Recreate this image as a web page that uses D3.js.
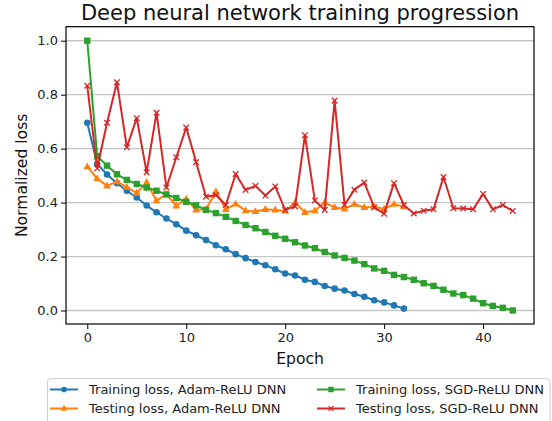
<!DOCTYPE html>
<html>
<head>
<meta charset="utf-8">
<script src="https://cdn.jsdelivr.net/npm/d3@7"></script>
<style>
  body { margin: 0; background: #fff; }
  svg { display: block; font-family: "DejaVu Sans", sans-serif; }
</style>
</head>
<body>
<svg></svg>
<script>
// datos
let adamEpochs = d3.range(0, 33)
let sgdEpochs = d3.range(0, 44)

let adamTrain = [0.696, 0.543, 0.504, 0.472, 0.444, 0.419, 0.389, 0.364, 0.341, 0.320,
                 0.296, 0.279, 0.261, 0.242, 0.227, 0.209, 0.194, 0.180, 0.168, 0.153,
                 0.137, 0.130, 0.114, 0.106, 0.091, 0.081, 0.074, 0.061, 0.051, 0.038,
                 0.030, 0.019, 0.007]
let adamTest = [0.533, 0.489, 0.462, 0.478, 0.457, 0.435, 0.475, 0.407, 0.431, 0.388,
                0.413, 0.373, 0.375, 0.441, 0.375, 0.395, 0.370, 0.367, 0.375, 0.373,
                0.369, 0.400, 0.364, 0.370, 0.400, 0.382, 0.377, 0.394, 0.382, 0.385,
                0.376, 0.394, 0.385]
let sgdTrain = [1.000, 0.572, 0.537, 0.505, 0.484, 0.469, 0.456, 0.444, 0.430, 0.417,
                0.403, 0.390, 0.373, 0.361, 0.347, 0.332, 0.317, 0.305, 0.291, 0.277,
                0.266, 0.253, 0.241, 0.231, 0.217, 0.204, 0.195, 0.185, 0.172, 0.156,
                0.147, 0.132, 0.124, 0.114, 0.101, 0.091, 0.077, 0.063, 0.057, 0.044,
                0.027, 0.017, 0.010, 0.000]
let sgdTest = [0.833, 0.527, 0.696, 0.846, 0.605, 0.713, 0.512, 0.733, 0.456, 0.568,
               0.678, 0.550, 0.422, 0.428, 0.391, 0.506, 0.447, 0.462, 0.426, 0.460,
               0.373, 0.386, 0.650, 0.408, 0.373, 0.778, 0.392, 0.448, 0.474, 0.382,
               0.359, 0.472, 0.391, 0.360, 0.370, 0.375, 0.495, 0.379, 0.378, 0.375,
               0.432, 0.375, 0.391, 0.369]

let xTicks = [0, 10, 20, 30, 40]
let yTicks = [0.0, 0.2, 0.4, 0.6, 0.8, 1.0]

let seriesNames = ['Training loss, Adam-ReLU DNN', 'Testing loss, Adam-ReLU DNN',
                   'Training loss, SGD-ReLU DNN', 'Testing loss, SGD-ReLU DNN']

let width = 552
let height = 421
let plotLeft = 66
let plotRight = 534
let plotTop = 26.7
let plotBottom = 324

let svg = d3.select('svg')
svg.attr('width', width).attr('height', height)

let xScale = d3.scaleLinear().domain([-2.15, 45.15]).range([plotLeft, plotRight])
let yScale = d3.scaleLinear().domain([-0.05, 1.052]).range([plotBottom, plotTop])

const series = [
    { name: seriesNames[0], x: adamEpochs, y: adamTrain, color: '#1f77b4', marker: 'circle' },
    { name: seriesNames[1], x: adamEpochs, y: adamTest, color: '#ff7f0e', marker: 'triangle' },
    { name: seriesNames[2], x: sgdEpochs, y: sgdTrain, color: '#2ca02c', marker: 'square' },
    { name: seriesNames[3], x: sgdEpochs, y: sgdTest, color: '#d62728', marker: 'x' }
]

const drawMarker = (g, type, color, k = 1) => { //dibuja un marcador en el origen del grupo g
    if (type === 'circle') {
        g.append('circle').attr('r', 3.3 * k).attr('fill', color)
    } else if (type === 'square') {
        g.append('rect').attr('x', -3.2 * k).attr('y', -3.2 * k)
         .attr('width', 6.4 * k).attr('height', 6.4 * k).attr('fill', color)
    } else if (type === 'triangle') {
        g.append('path').attr('d', 'M0,-4.3L3.9,2.6L-3.9,2.6Z')
         .attr('transform', 'scale(' + k + ')').attr('fill', color)
    } else {
        g.append('path').attr('d', 'M-2.8,-2.8L2.8,2.8M-2.8,2.8L2.8,-2.8')
         .attr('transform', 'scale(' + k + ')')
         .attr('stroke', color).attr('stroke-width', 1.3 / k)
    }
}

const drawGrid = () => {
    svg.append('g')
       .selectAll('line')
       .data(yTicks)
       .enter()
       .append('line')
       .attr('x1', plotLeft).attr('x2', plotRight)
       .attr('y1', d => yScale(d)).attr('y2', d => yScale(d))
       .attr('stroke', '#c6c6c6')
       .attr('stroke-width', 1.3)
}

const drawSeries = () => {
    series.forEach(s => {
        let pts = s.x.map((e, i) => [e, s.y[i]])
        let line = d3.line().x(d => xScale(d[0])).y(d => yScale(d[1]))
        svg.append('path')
           .attr('d', line(pts))
           .attr('fill', 'none')
           .attr('stroke', s.color)
           .attr('stroke-width', 2)
           .attr('stroke-linejoin', 'round')
        pts.forEach(p => {
            let g = svg.append('g').attr('transform', 'translate(' + xScale(p[0]) + ',' + yScale(p[1]) + ')')
            drawMarker(g, s.marker, s.color)
        })
    })
}

const drawAxes = () => {
    let xAxis = d3.axisBottom(xScale).tickValues(xTicks).tickFormat(d3.format('d')).tickSize(5).tickPadding(4)
    let gx = svg.append('g')
       .attr('transform', 'translate(0,' + plotBottom + ')')
       .call(xAxis)
    let yAxis = d3.axisLeft(yScale).tickValues(yTicks).tickFormat(d3.format('.1f')).tickSize(5).tickPadding(3)
    let gy = svg.append('g')
       .attr('transform', 'translate(' + plotLeft + ',0)')
       .call(yAxis)
    ;[gx, gy].forEach(g => {
        g.select('.domain').remove()
        g.selectAll('text').attr('font-size', 13).attr('fill', '#222').attr('font-family', 'DejaVu Sans')
        g.selectAll('line').attr('stroke', '#000').attr('stroke-width', 1)
    })

    svg.append('rect')
       .attr('x', plotLeft).attr('y', plotTop)
       .attr('width', plotRight - plotLeft).attr('height', plotBottom - plotTop)
       .attr('fill', 'none').attr('stroke', '#000').attr('stroke-width', 1.2)

    svg.append('text')
       .attr('x', (plotLeft + plotRight) / 2).attr('y', 364)
       .attr('text-anchor', 'middle').attr('font-size', 15.6).attr('fill', '#111')
       .text('Epoch')

    svg.append('text')
       .attr('transform', 'translate(27,' + (plotTop + plotBottom) / 2 + ') rotate(-90)')
       .attr('text-anchor', 'middle').attr('font-size', 15.6).attr('fill', '#111')
       .text('Normalized loss')

    svg.append('text')
       .attr('x', (plotLeft + plotRight) / 2).attr('y', 20)
       .attr('text-anchor', 'middle').attr('font-size', 21).attr('fill', '#111')
       .text('Deep neural network training progression')
}

const drawLegend = () => {
    let lg = svg.append('g')
    lg.append('rect')
      .attr('x', 47.5).attr('y', 378.7).attr('width', 502.5).attr('height', 60)
      .attr('rx', 3)
      .attr('fill', '#fff').attr('stroke', '#cccccc').attr('stroke-width', 1)

    let cols = [50, 317]
    let rows = [389.5, 408.5]
    series.forEach((s, i) => {
        let cx = cols[Math.floor(i / 2)]
        let cy = rows[i % 2]
        lg.append('line')
          .attr('x1', cx).attr('x2', cx + 28)
          .attr('y1', cy).attr('y2', cy)
          .attr('stroke', s.color).attr('stroke-width', 2)
        let g = lg.append('g').attr('transform', 'translate(' + (cx + 14) + ',' + cy + ')')
        drawMarker(g, s.marker, s.color, 0.85)
        lg.append('text')
          .attr('x', cx + 39).attr('y', cy)
          .attr('dy', '0.35em')
          .attr('font-size', 13).attr('fill', '#222')
          .text(s.name)
    })
}

drawGrid()
drawSeries()
drawAxes()
drawLegend()
</script>
</body>
</html>
